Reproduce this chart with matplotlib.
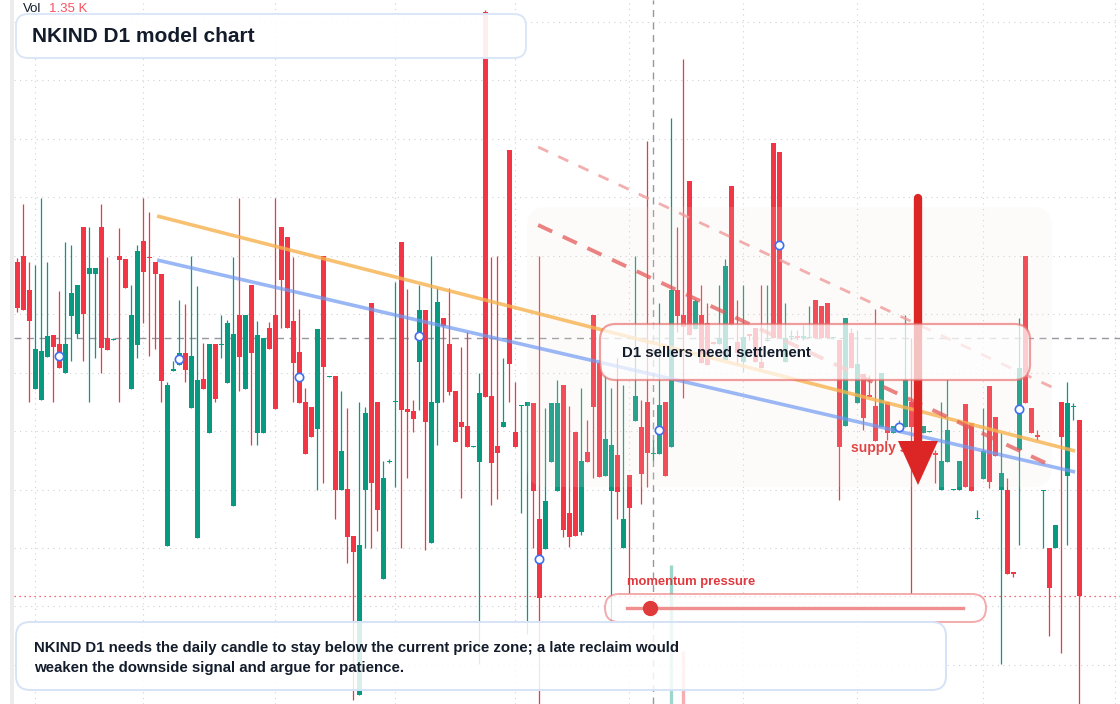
import matplotlib.pyplot as plt
from matplotlib.patches import FancyBboxPatch, Polygon, Rectangle
from matplotlib.transforms import Affine2D

# =========================
# Daily candles (price units)
# =========================
opens = [
    17.38, 17.44, 17.10, 16.11, 16.00, 16.43, 16.65, 16.56, 16.27, 16.84,
    16.66, 17.73, 17.26, 17.26, 17.73, 16.62, 16.60, 17.44, 17.41, 16.11,
    16.55, 17.59, 17.43, 17.38, 17.26, 14.54, 16.29, 16.35, 16.47, 15.92,
    14.62, 16.21, 15.67, 16.56, 16.55, 16.17, 14.94, 16.85, 16.11, 17.15,
    15.67, 15.67, 16.72, 16.85, 17.73, 17.63, 16.79, 16.48, 15.98, 15.93,
    15.71, 17.44, 16.23, 16.24, 15.10, 15.11, 14.64, 13.05, 15.10, 16.97,
    15.98, 14.21, 15.38, 15.98, 17.58, 15.91, 15.89, 16.38, 16.90, 14.57,
    15.97, 16.82, 16.56, 16.09, 15.78, 15.74, 15.53, 15.38, 19.88, 16.04,
    15.54, 15.73, 18.50, 15.68, 15.94, 15.94, 15.97, 14.81, 14.51, 15.38,
    15.09, 16.15, 14.87, 15.68, 14.68, 15.48, 16.85, 16.37, 15.24, 15.09,
    15.45, 14.52, 15.25, 15.79, 15.73, 15.98, 15.46, 15.46, 15.98, 15.53,
    17.10, 16.85, 18.19, 16.71, 16.85, 16.77, 16.58, 16.56, 16.40, 18.14,
    16.58, 16.38, 16.66, 16.72, 16.38, 16.59, 18.57, 18.48, 16.38, 16.63,
    16.64, 16.62, 16.62, 17.00, 16.94, 16.97, 16.62, 16.60, 15.74, 16.67,
    15.97, 16.26, 16.05, 15.94, 15.73, 15.98, 15.67, 15.70, 15.73, 15.98,
    15.80, 15.67, 15.68, 15.47, 15.10, 15.38, 15.10, 15.10, 15.96, 15.77,
    14.81, 15.21, 16.14, 15.83, 15.10, 15.10, 14.28, 15.50, 17.44, 15.92,
    15.65, 15.09, 14.52, 14.52, 15.98, 15.24, 15.93, 15.80,
]
highs = [
    17.42, 17.96, 17.38, 17.35, 18.02, 17.38, 16.65, 17.09, 17.58, 17.55,
    17.15, 17.73, 17.73, 17.32, 17.96, 17.43, 16.62, 17.72, 17.41, 17.15,
    17.55, 18.02, 17.88, 17.38, 17.26, 16.18, 16.39, 17.00, 16.96, 17.44,
    17.14, 16.57, 16.56, 16.56, 16.85, 16.80, 17.43, 18.02, 16.85, 17.15,
    16.79, 16.62, 16.78, 18.02, 17.73, 17.63, 17.43, 16.91, 16.12, 15.93,
    16.71, 17.44, 16.24, 16.24, 16.09, 15.92, 14.64, 15.98, 15.93, 16.97,
    15.98, 15.39, 15.41, 17.18, 17.58, 17.11, 16.00, 17.15, 16.90, 17.44,
    17.12, 16.82, 17.12, 16.09, 16.53, 16.68, 15.54, 16.27, 19.90, 17.43,
    17.44, 16.42, 18.50, 16.18, 15.95, 15.98, 15.97, 17.44, 15.92, 15.97,
    16.20, 16.15, 15.94, 15.68, 16.12, 15.80, 16.85, 16.37, 16.25, 16.12,
    16.42, 16.15, 15.25, 17.44, 16.00, 18.59, 15.60, 16.97, 15.98, 18.82,
    17.73, 19.41, 18.19, 17.01, 17.15, 16.97, 16.58, 17.15, 17.41, 18.14,
    17.00, 17.15, 16.66, 16.72, 17.15, 17.15, 18.57, 18.48, 16.97, 16.70,
    16.70, 16.75, 16.94, 17.00, 16.94, 16.97, 16.63, 16.60, 16.82, 16.72,
    16.70, 16.26, 16.25, 16.91, 16.27, 15.98, 15.74, 15.80, 16.85, 16.62,
    15.90, 15.74, 15.69, 15.50, 15.98, 16.21, 15.11, 15.39, 15.96, 15.77,
    14.90, 15.92, 16.14, 15.83, 15.67, 15.22, 14.28, 16.82, 17.44, 15.92,
    15.70, 15.10, 14.52, 14.75, 15.98, 16.18, 15.97, 15.80,
]
lows = [
    16.88, 16.90, 15.98, 16.11, 16.00, 16.43, 15.98, 16.32, 16.27, 16.39,
    16.62, 16.39, 15.98, 16.42, 16.27, 16.50, 16.60, 15.98, 17.12, 16.11,
    16.42, 16.77, 16.44, 16.51, 15.98, 14.54, 16.29, 16.35, 16.18, 15.92,
    14.62, 16.11, 15.67, 15.98, 16.42, 16.17, 14.94, 16.09, 16.11, 15.55,
    15.55, 15.67, 16.51, 15.91, 16.72, 16.72, 15.98, 15.97, 15.46, 15.63,
    15.10, 15.17, 16.23, 14.81, 15.10, 14.37, 13.00, 13.05, 14.52, 14.52,
    14.69, 14.21, 15.37, 15.13, 14.52, 15.22, 15.68, 15.90, 14.50, 14.57,
    15.55, 15.98, 16.05, 15.58, 15.02, 15.53, 15.53, 13.36, 16.03, 14.95,
    15.01, 15.73, 15.98, 15.53, 14.87, 13.66, 14.52, 12.96, 14.51, 15.38,
    15.09, 14.63, 14.53, 14.64, 14.65, 15.38, 15.22, 15.23, 15.24, 13.78,
    14.81, 14.52, 14.07, 15.79, 14.96, 15.13, 15.40, 15.46, 15.24, 15.53,
    16.68, 16.02, 16.65, 16.71, 16.37, 16.35, 16.56, 16.56, 16.40, 16.75,
    16.35, 16.28, 16.60, 16.38, 16.32, 16.59, 16.62, 16.62, 16.38, 16.60,
    16.60, 16.60, 16.62, 16.62, 16.62, 16.62, 16.61, 15.00, 15.74, 16.32,
    15.97, 15.70, 16.03, 15.59, 15.73, 15.60, 15.67, 15.68, 15.73, 14.07,
    15.50, 15.67, 15.68, 15.17, 15.10, 15.38, 15.10, 15.10, 15.13, 15.09,
    14.81, 15.21, 15.12, 15.44, 13.36, 14.26, 14.23, 14.55, 15.97, 15.67,
    15.60, 14.52, 13.64, 14.52, 13.47, 14.55, 15.80, 12.96,
]
closes = [
    16.92, 16.90, 16.79, 16.51, 16.49, 16.64, 16.53, 16.32, 16.56, 17.07,
    17.15, 16.86, 17.32, 17.32, 16.52, 16.50, 16.61, 17.40, 17.12, 16.85,
    17.49, 17.28, 17.42, 17.26, 16.19, 16.15, 16.31, 16.47, 16.30, 16.44,
    16.20, 16.11, 16.56, 16.01, 16.56, 16.77, 16.66, 16.43, 16.85, 16.47,
    16.65, 16.62, 16.51, 15.91, 17.20, 16.72, 16.37, 15.97, 15.46, 15.63,
    16.71, 16.33, 16.24, 15.10, 15.49, 14.63, 14.48, 14.55, 15.87, 15.17,
    14.90, 15.22, 15.39, 15.99, 15.90, 15.88, 15.81, 16.90, 15.78, 15.98,
    16.98, 16.74, 16.08, 15.58, 15.73, 15.53, 15.54, 16.07, 16.03, 15.37,
    15.47, 15.78, 16.36, 15.53, 15.95, 15.98, 15.09, 14.02, 14.99, 15.97,
    15.97, 14.70, 14.63, 14.64, 15.39, 15.38, 15.93, 15.23, 15.61, 15.55,
    15.08, 14.81, 14.92, 16.04, 15.26, 15.47, 15.47, 15.95, 15.24, 17.10,
    16.84, 16.73, 16.65, 16.99, 16.37, 16.35, 16.56, 16.62, 17.34, 16.75,
    16.47, 16.63, 16.64, 16.38, 16.32, 16.60, 16.62, 16.62, 16.62, 16.64,
    16.62, 16.64, 16.63, 16.62, 16.62, 16.62, 16.62, 15.53, 16.82, 16.32,
    16.36, 15.82, 16.03, 15.59, 16.27, 15.67, 15.74, 15.76, 16.20, 15.73,
    15.60, 15.74, 15.69, 15.45, 15.39, 15.70, 15.11, 15.39, 15.13, 15.09,
    14.82, 15.49, 15.18, 15.44, 15.27, 14.26, 14.26, 16.32, 15.97, 15.67,
    15.63, 15.10, 14.12, 14.75, 15.63, 15.97, 15.94, 14.04,
]

# volume (K) - only the spikes that show in the pane
vol_idx = [109, 111]
vol_k = [3.56, 1.35]

# trend lines: [candle index], [price]
orange_x, orange_y = [23.3, 176.3], [17.84, 15.49]
blue_x, blue_y = [23.3, 176.3], [17.40, 15.28]
sell_x, sell_y = [86.8, 172.1], [17.75, 15.35]
upper_x, upper_y = [86.8, 172.4], [18.53, 16.13]

# month separators (candle index)
month_idx = [3, 21, 43, 63, 83, 102, 121, 140, 161, 183]

cross_idx = 106
cross_price = 16.62

note_lines = [
    "NKIND D1 needs the daily candle to stay below the current price zone; a late reclaim would",
    "weaken the downside signal and argue for patience.",
]

UP = "#089981"
DOWN = "#f23645"
INK = "#131c2b"

W, H = 1120, 704
fig = plt.figure(figsize=(W / 100, H / 100), dpi=100)
ax = fig.add_axes([14 / W, 0, 1 - 14 / W, 1])
ax.set_xlim((14 - 17.3) / 6, (W - 17.3) / 6)
ax.set_ylim(12.96, 20.0)
ax.axis("off")

# pixel coordinates (origin top-left) for the overlay boxes
px = Affine2D().scale(0.01, -0.01).translate(0, H / 100) + fig.dpi_scale_trans

# grid
p = 19.78
while p > 12.9:
    ax.axhline(p, color="#cfd1d6", lw=0.8, ls=(0, (1, 4)), zorder=0.5)
    p -= 0.5845
for m in month_idx:
    ax.axvline(m, color="#cfd1d6", lw=0.8, ls=(0, (1, 4)), zorder=0.5)

# crosshair + last price
ax.axvline(cross_idx, color="#9598a1", lw=1.0, ls=(0, (5, 4)), zorder=1)
ax.axhline(cross_price, color="#9598a1", lw=1.0, ls=(0, (5, 4)), zorder=1)
ax.axhline(closes[-1], color=DOWN, lw=0.9, ls=(0, (1, 3)), zorder=1)

# candles
for i in range(len(opens)):
    o, h, l, c = opens[i], highs[i], lows[i], closes[i]
    col = UP if c >= o else DOWN
    ax.vlines(i, l, h, color=col, lw=0.9, zorder=2)
    ax.bar(i, max(abs(c - o), 0.014), bottom=min(o, c), width=0.78,
           color=col, linewidth=0, zorder=2)

# volume spikes
xa = ax.get_xaxis_transform()
for i, v in zip(vol_idx, vol_k):
    col = UP if closes[i] >= opens[i] else DOWN
    ax.vlines(i, 0, v / 18.0, transform=xa, color=col, lw=2.4, alpha=0.4, zorder=2.5)

# supply zone
ax.add_artist(FancyBboxPatch((527, 207), 525, 280, boxstyle="round,pad=0,rounding_size=20",
                             transform=px, fc="#f3e3d8", ec="none", alpha=0.14, zorder=3))

# trend lines
ax.plot(orange_x, orange_y, color="#f7b24f", lw=2.6, alpha=0.8, zorder=4, solid_capstyle="butt")
ax.plot(blue_x, blue_y, color="#7099f2", lw=2.6, alpha=0.7, zorder=4, solid_capstyle="butt")
ax.plot(sell_x, sell_y, color="#e55a5a", lw=2.8, alpha=0.75, ls=(0, (4, 3)), zorder=4)
ax.plot(upper_x, upper_y, color="#f09a9a", lw=2.0, alpha=0.8, ls=(0, (4, 4)), zorder=4)

# body mid markers every 20 candles
mk = list(range(7, len(opens), 20))
ax.plot(mk, [(opens[k] + closes[k]) / 2 for k in mk], "o", ms=6, mfc="white",
        mec="#3f6ff0", mew=1.2, zorder=5)

# supply label + arrow
ax.text(851, 448, "supply shelf", transform=px, color="#e04646", fontsize=10,
        fontweight="bold", family="Liberation Sans", va="center", zorder=6)
ax.plot([918, 918], [198, 446], transform=px, color="#dc2626", lw=6, solid_capstyle="round", zorder=7)
ax.add_artist(Polygon([[898, 441], [938, 441], [918, 485]], closed=True, transform=px,
                      fc="#dc2626", ec="none", zorder=7))


def rbox(x0, y0, x1, y1, r, ec, fc="white", falpha=0.85, lw=1.3, z=8):
    ax.add_artist(FancyBboxPatch((x0, y0), x1 - x0, y1 - y0,
                                 boxstyle=f"round,pad=0,rounding_size={r}",
                                 transform=px, fc=fc, ec="none", alpha=falpha, zorder=z))
    ax.add_artist(FancyBboxPatch((x0, y0), x1 - x0, y1 - y0,
                                 boxstyle=f"round,pad=0,rounding_size={r}",
                                 transform=px, fc="none", ec=ec, lw=lw, zorder=z))


# settlement callout
rbox(600, 324, 1030, 380, 16, (0.91, 0.42, 0.42, 0.65), falpha=0.72, lw=1.6)
ax.text(622, 353, "D1 sellers need settlement", transform=px, color=INK, fontsize=10.8,
        fontweight="bold", family="Liberation Sans", va="center", zorder=9)

# momentum gauge
rbox(605, 594, 986, 622, 14, (0.93, 0.45, 0.45, 0.6), falpha=0.8, lw=1.4)
ax.plot([627, 963], [608, 608], transform=px, color="#f08282", lw=2.4, alpha=0.9, zorder=9)
ax.plot([650], [608], "o", transform=px, ms=10, color="#e03b3b", zorder=9)
ax.text(627, 582, "momentum pressure", transform=px, color="#e0393e", fontsize=9.4,
        fontweight="bold", family="Liberation Sans", va="center", zorder=9)

# title box
rbox(16, 14, 526, 58, 12, "#dbe6f7", falpha=0.92, lw=1.4)
ax.text(32, 36, "NKIND D1 model chart", transform=px, color=INK, fontsize=15,
        fontweight="bold", family="Liberation Sans", va="center", zorder=9)

# bottom note
rbox(16, 622, 946, 690, 14, "#d6e3f7", falpha=0.85, lw=1.4)
for k, line in enumerate(note_lines):
    ax.text(34, 648 + 20 * k, line, transform=px, color=INK, fontsize=10.8,
            fontweight="bold", family="Liberation Sans", va="center", zorder=9)

# volume legend
ax.text(23, 9, "Vol", transform=px, color=INK, fontsize=9.5, family="Liberation Sans",
        va="center", zorder=9)
ax.text(49, 9, "1.35 K", transform=px, color="#f7525f", fontsize=9.5, family="Liberation Sans",
        va="center", zorder=9)

# left border strip
fig.add_artist(Rectangle((10, 0), 4, H, transform=px, fc="#ececec", ec="none"))

fig.savefig("out.png", dpi=100)
